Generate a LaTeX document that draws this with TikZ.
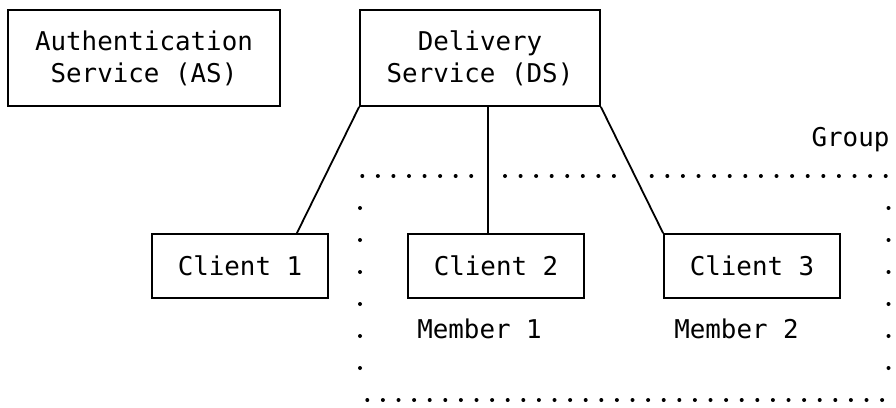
\documentclass[tikz,border=0pt]{standalone}
\usepackage{fontspec}
\setmonofont{DejaVu Sans Mono}
\begin{document}
\begin{tikzpicture}[x=1pt,y=-1pt,
  font=\ttfamily\fontsize{25.85pt}{32pt}\selectfont,
  box/.style={draw, line width=1.8pt, inner sep=0pt, align=center},
  link/.style={line width=1.8pt},
  lbl/.style={anchor=base, inner sep=0pt}]
\fill[white] (0,0) rectangle (896,407);
\useasboundingbox (0,0) rectangle (896,407);
% boxes
\node[box, minimum width=272pt, minimum height=96pt] (AS) at (144,58) {Authentication\\Service (AS)};
\node[box, minimum width=240pt, minimum height=96pt] (DS) at (480,58) {Delivery\\Service (DS)};
\node[box, minimum width=176pt, minimum height=64pt] (C1) at (240,266) {Client 1};
\node[box, minimum width=176pt, minimum height=64pt] (C2) at (496,266) {Client 2};
\node[box, minimum width=176pt, minimum height=64pt] (C3) at (752,266) {Client 3};
% connectors
\draw[link] (DS.south west) -- ([xshift=-32pt]C1.north east);
\draw[link] ([xshift=8pt]DS.south) -- ([xshift=-8pt]C2.north);
\draw[link] (DS.south east) -- (C3.north west);
% labels
\node[lbl] (G)  at (850.5,146.5) {Group};
\node[lbl] (M1) at (479.5,338) {Member 1};
\node[lbl] (M2) at (736.5,338) {Member 2};
% group boundary (dots)
\foreach \i in {0,...,7} \fill (362.3+15.56*\i,176) circle (2pt);
\foreach \i in {0,...,7} \fill (505+15.56*\i,176) circle (2pt);
\foreach \i in {0,...,15} \fill (651.7+15.6*\i,176) circle (2pt);
\foreach \i in {0,...,33} \fill (367.3+15.6*\i,400) circle (2pt);
\foreach \k in {1,...,6} {
  \fill (360,176+32*\k) circle (2pt);
  \fill (888.5,176+32*\k) circle (2pt);
}
\end{tikzpicture}
\end{document}
